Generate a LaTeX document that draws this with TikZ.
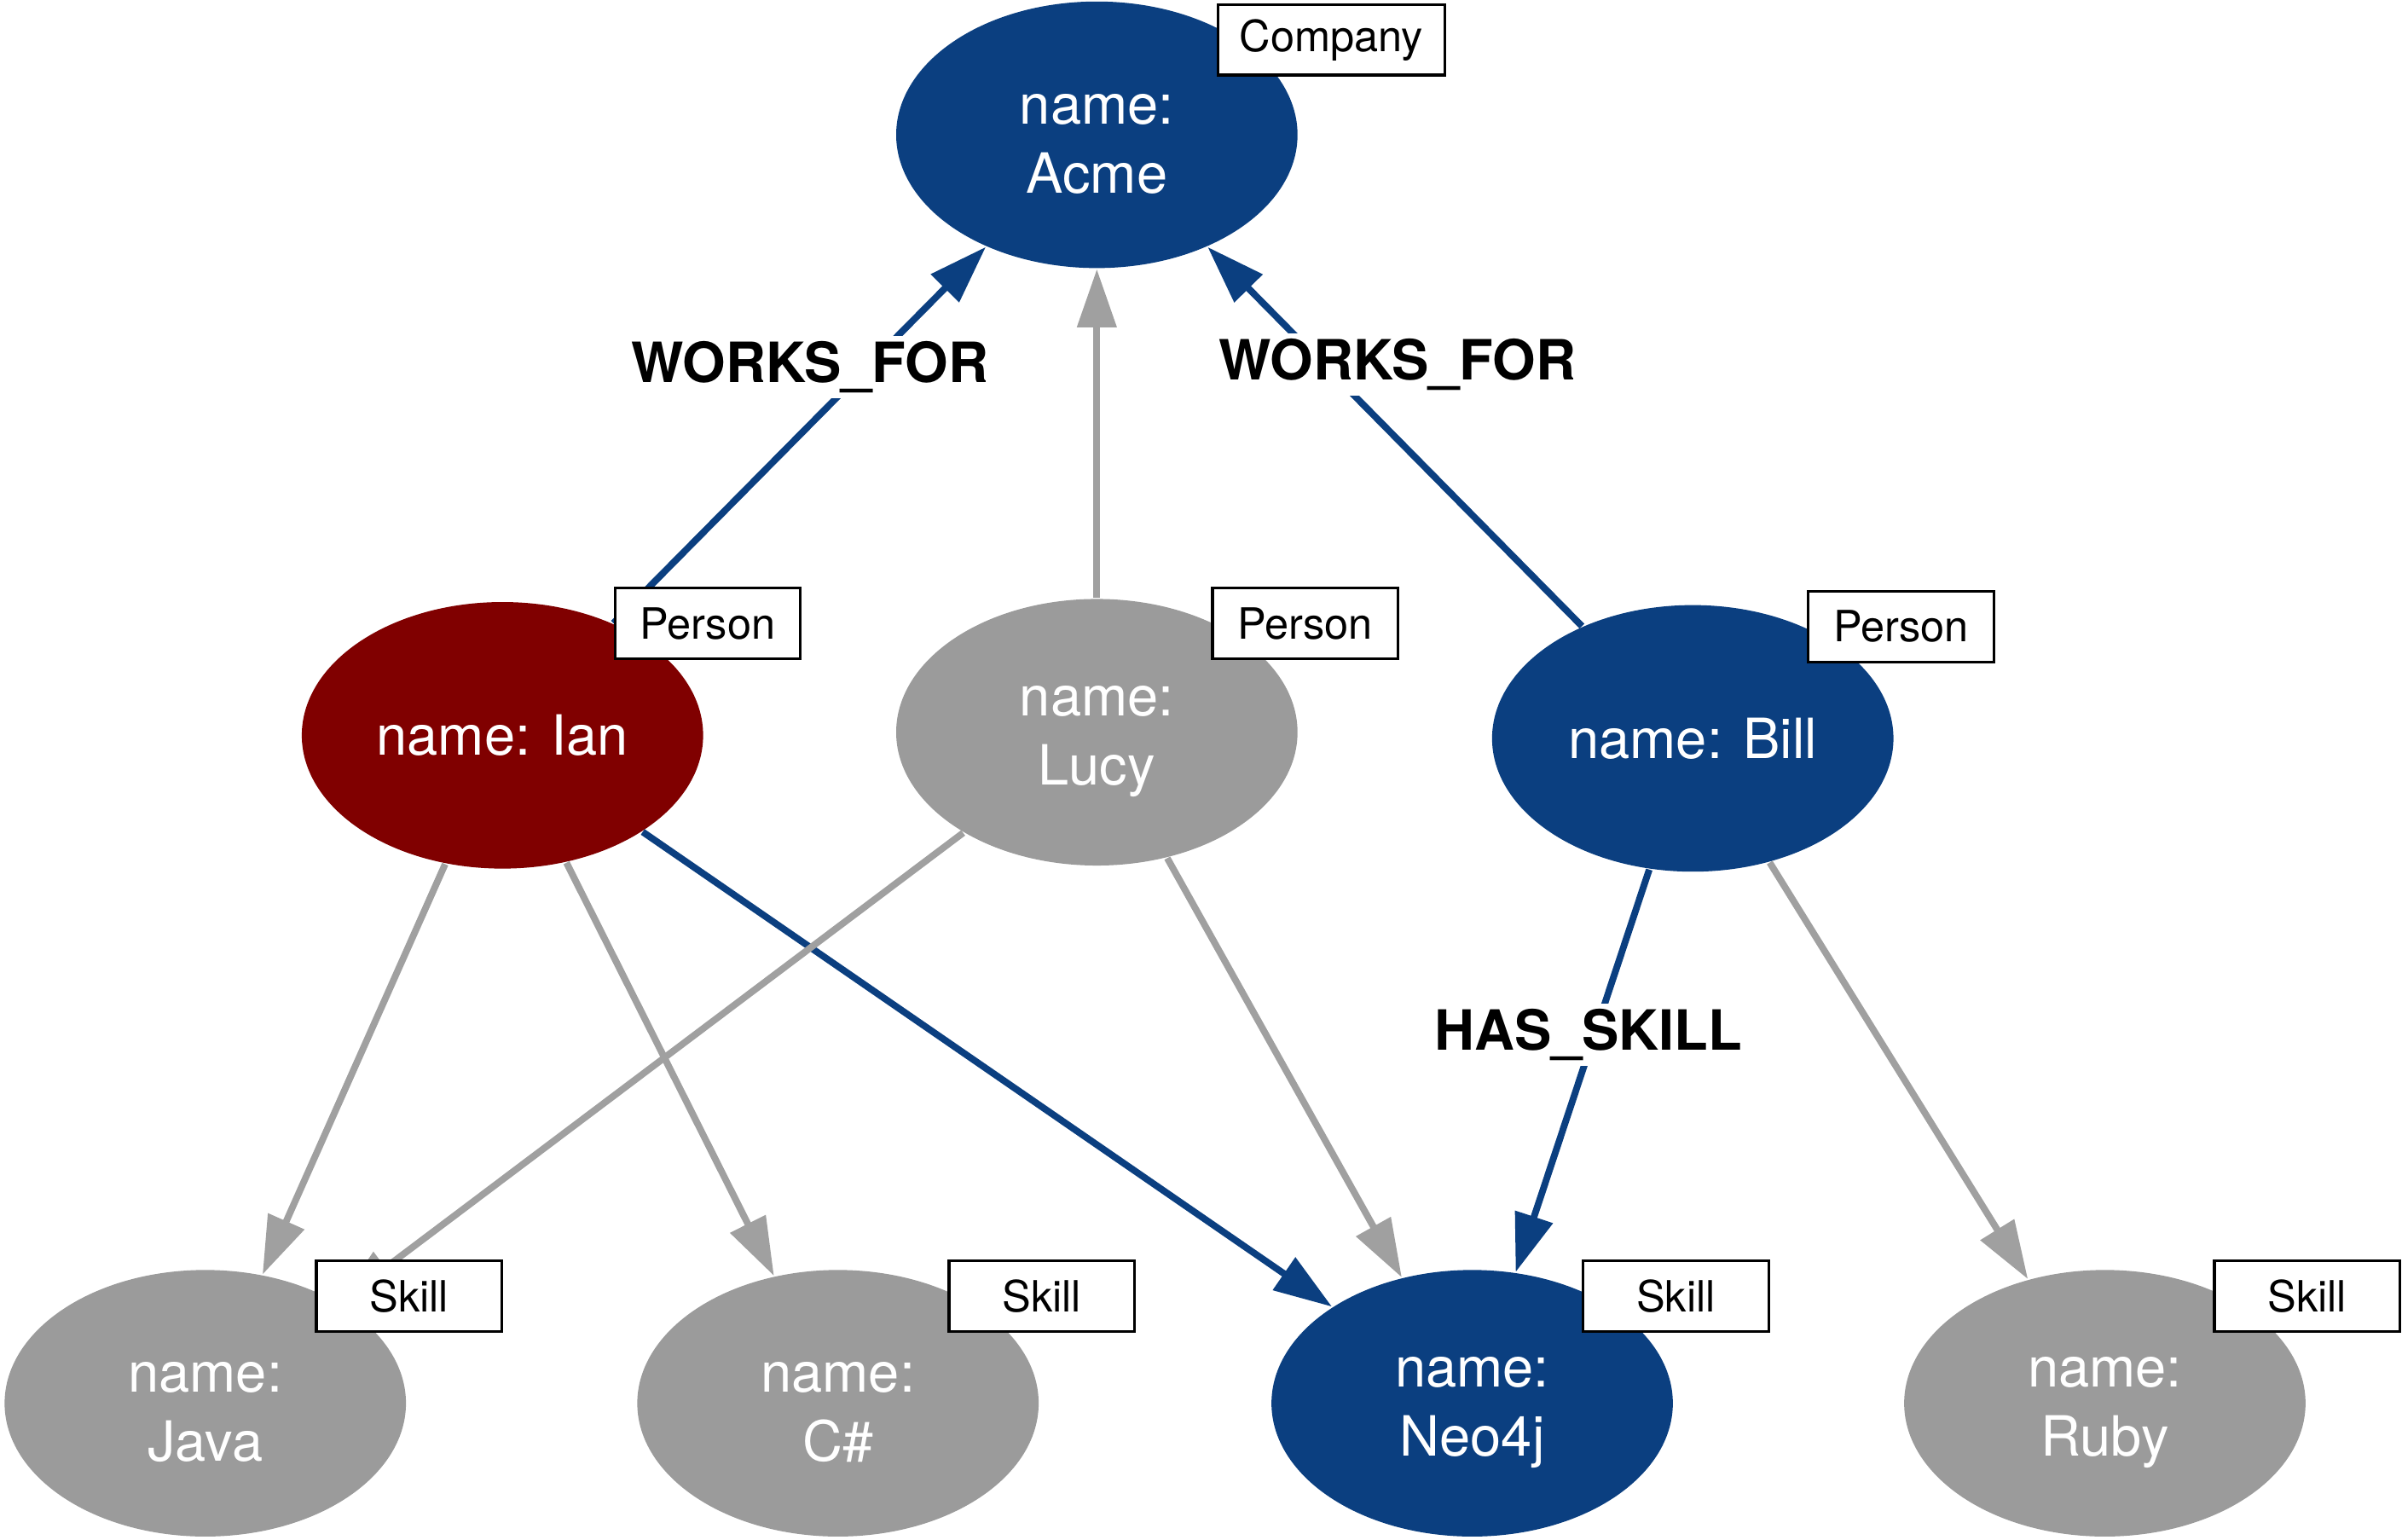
\documentclass[tikz,border=0pt]{standalone}
\usepackage{fontspec}
\setmainfont{TeX Gyre Heros}
\usepackage{xcolor}
\usetikzlibrary{shapes.geometric,arrows.meta}

\definecolor{neoblue}{HTML}{0B3F80}
\definecolor{neored}{HTML}{800000}
\definecolor{neogray}{HTML}{9B9B9B}
\definecolor{edgegray}{HTML}{A0A0A0}

\begin{document}
\begin{tikzpicture}[
  ent/.style={ellipse, minimum width=2.62cm, minimum height=1.74cm, inner sep=0pt,
    text=white, align=center, font=\fontsize{10.3}{12.8}\selectfont},
  tag/.style={draw=black, fill=white, line width=0.5pt, minimum width=1.21cm,
    minimum height=0.46cm, inner xsep=0.14cm, inner ysep=0pt, font=\fontsize{8}{9}\selectfont},
  rel/.style={line width=1.25pt, -{Triangle[length=0.38cm,width=0.25cm]}},
  lbl/.style={fill=white, inner sep=1pt, text=black, font=\bfseries\fontsize{10.3}{12}\selectfont}
]
\useasboundingbox (0,0) rectangle (15.68,10.05);

\node[ent, fill=neoblue] (acme) at (7.16,9.17) {\strut name:\\Acme};
\node[ent, fill=neored] (ian) at (3.28,5.25) {name: Ian};
\node[ent, fill=neogray] (lucy) at (7.16,5.27) {\strut name:\\Lucy};
\node[ent, fill=neoblue] (bill) at (11.05,5.23) {name: Bill};
\node[ent, fill=neogray] (java) at (1.34,0.89) {\strut name:\\Java};
\node[ent, fill=neogray] (csharp) at (5.47,0.89) {\strut name:\\C\#};
\node[ent, fill=neoblue] (neo) at (9.61,0.89) {\strut name:\\Neo4j};
\node[ent, fill=neogray] (ruby) at (13.74,0.89) {\strut name:\\Ruby};

% relationships
\draw[rel, neoblue] (ian) -- node[lbl, pos=0.68, xshift=-0.37cm]{WORKS\_FOR} (acme);
\draw[rel, neoblue] (bill) -- node[lbl, pos=0.69, xshift=0.48cm]{WORKS\_FOR} (acme);
\draw[rel, edgegray] (lucy) -- (acme);
\draw[rel, edgegray] (ian) -- (java);
\draw[rel, edgegray] (ian) -- (csharp);
\draw[rel, neoblue] (ian) -- (neo);
\draw[rel, edgegray] (lucy) -- (java);
\draw[rel, edgegray] (lucy) -- (neo);
\draw[rel, neoblue] (bill) -- node[lbl, pos=0.41, xshift=-0.04cm]{HAS\_SKILL} (neo);
\draw[rel, edgegray] (bill) -- (ruby);

% labels
\node[tag] (acmetag) at (8.69,9.79) {Company};
\node[tag] (iantag) at (4.62,5.98) {Person};
\node[tag] (lucytag) at (8.52,5.98) {Person};
\node[tag] (billtag) at (12.41,5.96) {Person};
\node[tag] (javatag) at (2.67,1.59) {Skill};
\node[tag] (csharptag) at (6.80,1.59) {Skill};
\node[tag] (neotag) at (10.94,1.59) {Skill};
\node[tag] (rubytag) at (15.06,1.59) {Skill};

\end{tikzpicture}
\end{document}
